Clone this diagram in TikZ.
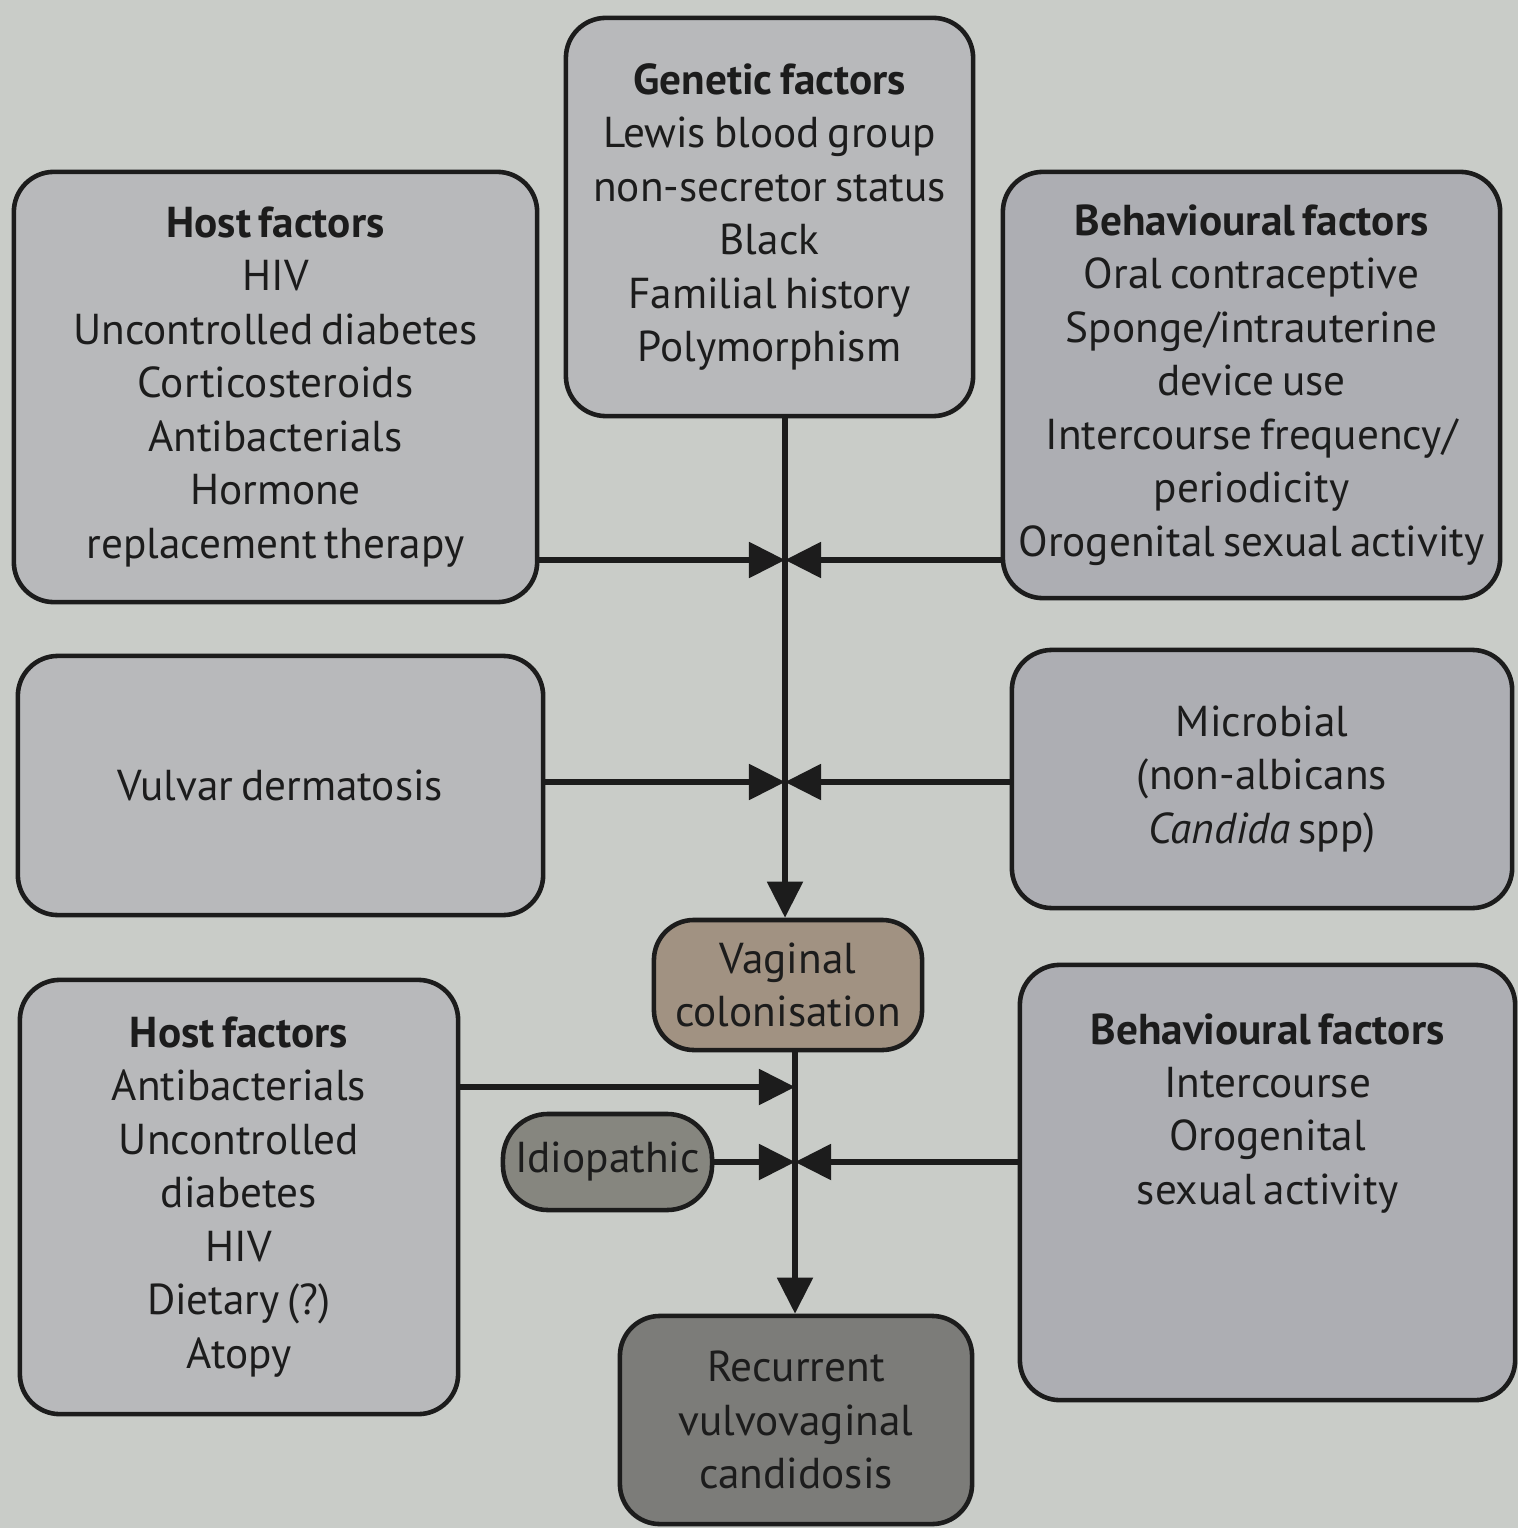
\documentclass[tikz,border=0pt]{standalone}
\usepackage{fontspec}
\setmainfont[WordSpace=0.7]{PT Sans}
\usetikzlibrary{arrows.meta}
\definecolor{bg}{HTML}{C9CCC8}
\definecolor{boxL}{HTML}{B8B9BB}
\definecolor{boxR}{HTML}{ADAEB3}
\definecolor{vagc}{HTML}{A19282}
\definecolor{idio}{HTML}{86867F}
\definecolor{recc}{HTML}{7C7C79}
\definecolor{ink}{HTML}{1C1C1C}
\tikzset{
  fbox/.style={draw=ink, line width=1.3pt, rounded corners=0.4cm, align=center,
    text=ink, inner sep=0pt, font=\fontsize{12.3}{15.2}\selectfont},
  conn/.style={draw=ink, line width=1.5pt},
  tip/.style={conn, -{Triangle[length=3.6mm,width=3.5mm]}},
}
\begin{document}
\begin{tikzpicture}[x=0.01cm,y=-0.01cm]
\fill[bg] (0,0) rectangle (1518,1528);
\useasboundingbox (0,0) rectangle (1518,1528);
% boxes
\node[fbox, fill=boxL, minimum width=4.07cm, minimum height=3.98cm] (gen) at (769.5,217)
  {\textbf{Genetic factors}\\Lewis blood group\\non-secretor status\\Black\\Familial history\\Polymorphism};
\node[fbox, fill=boxL, minimum width=5.23cm, minimum height=4.30cm] (host1) at (275.5,387)
  {\textbf{Host factors}\\HIV\\Uncontrolled diabetes\\Corticosteroids\\Antibacterials\\Hormone\\replacement therapy};
\node[fbox, fill=boxR, minimum width=4.97cm, minimum height=4.26cm] (beh1) at (1251.5,385)
  {\textbf{Behavioural factors}\\Oral contraceptive\\Sponge/intrauterine\\device use\\Intercourse frequency/\\periodicity\\Orogenital sexual activity};
\node[fbox, fill=boxL, minimum width=5.25cm, minimum height=2.59cm] (vul) at (280.5,785.5)
  {Vulvar dermatosis};
\node[fbox, fill=boxR, minimum width=5.00cm, minimum height=2.58cm] (mic) at (1262,779)
  {Microbial\\(non-albicans\\\textit{Candida} spp)};
\node[fbox, fill=vagc, minimum width=2.68cm, minimum height=1.30cm] (vag) at (788,985)
  {Vaginal\\colonisation};
\node[fbox, fill=boxL, minimum width=4.38cm, minimum height=4.34cm] (host2) at (239,1197)
  {\textbf{Host factors}\\Antibacterials\\Uncontrolled\\diabetes\\HIV\\Dietary (?)\\Atopy};
\node[fbox, fill=idio, minimum width=2.09cm, minimum height=0.96cm, rounded corners=0.45cm] (idi) at (607.5,1162)
  {Idiopathic};
\node[fbox, fill=boxR, minimum width=4.95cm, minimum height=4.35cm] (beh2) at (1267.5,1182.5) {};
\node[anchor=north, align=center, text=ink, inner sep=0pt, font=\fontsize{12.3}{15.2}\selectfont] (beh2t) at ([yshift=-0.50cm]beh2.north)
  {\textbf{Behavioural factors}\\Intercourse\\Orogenital\\sexual activity};
\node[fbox, fill=recc, minimum width=3.52cm, minimum height=2.08cm] (rec) at (796,1420)
  {Recurrent\\vulvovaginal\\candidosis};
% junctions
\coordinate (xu) at (785,0);
\coordinate (xl) at (795,0);
\coordinate (j1) at (785,560);
\coordinate (j2) at (785,782);
\coordinate (j3) at (795,1087);
\coordinate (j4) at (795,1162);
% main flow
\draw[tip] (gen.south -| xu) -- (vag.north -| xu);
\draw[tip] (vag.south -| xl) -- (rec.north -| xl);
% side arrows
\draw[tip] (host1.east |- j1) -- (j1);
\draw[tip] (beh1.west |- j1) -- (j1);
\draw[tip] (vul.east |- j2) -- (j2);
\draw[tip] (mic.west |- j2) -- (j2);
\draw[tip] (host2.east |- j3) -- (j3);
\draw[tip] (idi.east) -- (j4);
\draw[tip] (beh2.west |- j4) -- (j4);
\end{tikzpicture}
\end{document}
